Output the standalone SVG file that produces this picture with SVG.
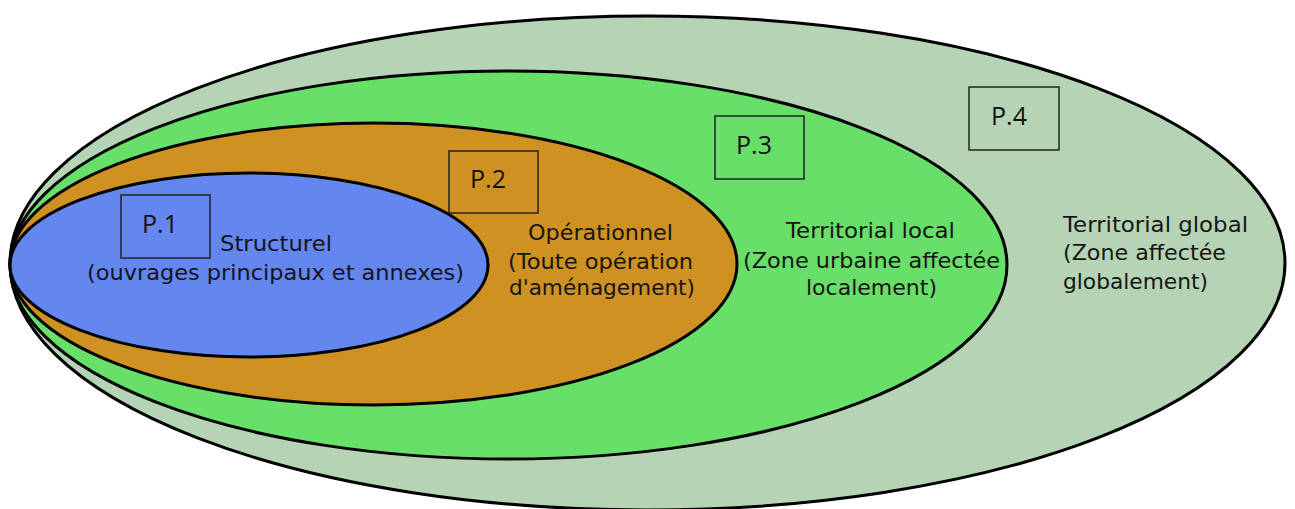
<svg xmlns="http://www.w3.org/2000/svg" width="1295" height="509" viewBox="0 0 1295 509">
<style>
.zone{stroke:#000;stroke-width:3}
.box{fill:none;stroke:#222;stroke-width:1.5}
.p{font-family:"Open Sans","Liberation Sans",sans-serif;font-size:25px;fill:#111;text-anchor:middle}
.t{font-family:"DejaVu Sans","Liberation Sans",sans-serif;font-size:21px;fill:#151515}
</style>
<rect width="1295" height="509" fill="#fff"/>
<g id="p4">
<ellipse class="zone" cx="647.5" cy="263" rx="637.5" ry="247" fill="#b5d4b5"/>
<rect class="box" x="969" y="87" width="90" height="63"/>
<text class="p" x="1009" y="125">P.4</text>
<text class="t" x="1063" y="232" textLength="185" lengthAdjust="spacingAndGlyphs">Territorial global</text>
<text class="t" x="1063" y="260" textLength="163" lengthAdjust="spacingAndGlyphs">(Zone affectée</text>
<text class="t" x="1063" y="289" textLength="145" lengthAdjust="spacingAndGlyphs">globalement)</text>
</g>
<g id="p3">
<ellipse class="zone" cx="508.5" cy="265" rx="498.5" ry="194" fill="#68df68"/>
<rect class="box" x="715" y="116" width="89" height="63"/>
<text class="p" x="754" y="154">P.3</text>
<text class="t" x="786" y="238" textLength="169" lengthAdjust="spacingAndGlyphs">Territorial local</text>
<text class="t" x="743" y="268" textLength="257" lengthAdjust="spacingAndGlyphs">(Zone urbaine affectée</text>
<text class="t" x="806" y="295" textLength="131" lengthAdjust="spacingAndGlyphs">localement)</text>
</g>
<g id="p2">
<ellipse class="zone" cx="373.5" cy="264" rx="363.5" ry="141" fill="#cf9222"/>
<rect class="box" x="449" y="151" width="89" height="62"/>
<text class="p" x="488" y="188">P.2</text>
<text class="t" x="528" y="240" textLength="145" lengthAdjust="spacingAndGlyphs">Opérationnel</text>
<text class="t" x="508" y="269" textLength="185" lengthAdjust="spacingAndGlyphs">(Toute opération</text>
<text class="t" x="509" y="295" textLength="186" lengthAdjust="spacingAndGlyphs">d'aménagement)</text>
</g>
<g id="p1">
<ellipse class="zone" cx="249" cy="265" rx="239" ry="92" fill="#6486ef"/>
<rect class="box" x="121" y="195" width="89" height="63"/>
<text class="p" x="160" y="233">P.1</text>
<text class="t" x="220" y="251" textLength="112" lengthAdjust="spacingAndGlyphs">Structurel</text>
<text class="t" x="87" y="280" textLength="377" lengthAdjust="spacingAndGlyphs">(ouvrages principaux et annexes)</text>
</g>
<g id="connectors"></g>
</svg>
